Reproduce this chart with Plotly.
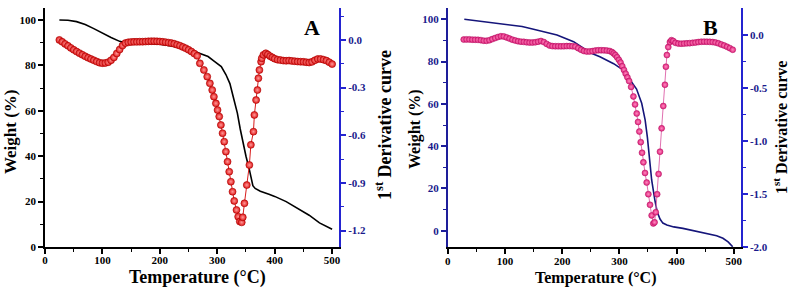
import plotly.graph_objects as go

# ---------------- Panel A data ----------------
A_wt_T = [25, 40, 55, 70, 85, 100, 115, 130, 140, 160, 180, 200, 220, 240, 255, 270, 284, 295,
          307, 315, 322, 328, 335, 340, 345, 350, 356, 362, 366, 375, 390, 400, 420, 444, 460,
          478, 490, 500]
A_wt = [100, 99.9, 99.3, 98.0, 96.2, 94.2, 92.3, 90.6, 90.0, 89.8, 89.6, 89.3, 88.6, 87.6, 86.8,
        85.3, 83.9, 81.8, 79.5, 76.0, 72.0, 66.0, 59.0, 52.0, 45.7, 40.0, 34.0, 27.0, 25.8, 24.6,
        23.2, 22.3, 20.0, 16.4, 14.0, 10.6, 9.0, 7.8]

A_dtg_T = [25, 30, 35, 40, 45, 50, 55, 60, 65, 70, 75, 80, 85, 90, 95, 100, 105, 110, 115, 120,
           125, 130, 135, 140, 145, 150, 155, 160, 165, 170, 175, 180, 185, 190, 195, 200, 205,
           210, 215, 220, 225, 230, 235, 240, 245, 250, 255, 260, 265,
           269.7, 276.7, 282.5, 287.1, 291.2, 294.1, 297.6, 300.5, 303.4, 306.3, 309.2, 312.1,
           315.0, 317.9, 320.8, 323.7, 326.6, 329.5, 333.5, 336.4, 339.3,
           342.6, 344.4, 347.3, 351.4, 355.9, 358.5, 363.0, 364.6, 367.6, 369.9, 371.6, 373.4,
           376.3, 377.5, 380.3, 384.5, 388, 392, 396, 400, 405, 410, 415, 420, 425, 430, 435,
           440, 445, 450, 455, 460, 465, 470, 475, 480, 485, 490, 495, 500]
A_dtg = [0.000, -0.012, -0.025, -0.037, -0.050, -0.062, -0.073, -0.083, -0.093, -0.103, -0.112,
         -0.120, -0.128, -0.136, -0.143, -0.146, -0.145, -0.140, -0.128, -0.110, -0.085, -0.060,
         -0.035, -0.020, -0.015, -0.013, -0.012, -0.012, -0.011, -0.011, -0.010, -0.009, -0.008,
         -0.008, -0.009, -0.010, -0.012, -0.014, -0.017, -0.020, -0.024, -0.030, -0.036, -0.044,
         -0.052, -0.062, -0.073, -0.086, -0.100,
         -0.147, -0.189, -0.231, -0.273, -0.315, -0.357, -0.399, -0.441, -0.482, -0.535, -0.587,
         -0.640, -0.703, -0.766, -0.829, -0.892, -0.955, -1.013, -1.070, -1.112, -1.143,
         -1.148, -1.116, -1.028, -0.913, -0.787, -0.660, -0.577, -0.472, -0.378, -0.315, -0.241,
         -0.189, -0.137, -0.115, -0.094, -0.084, -0.092, -0.102, -0.110, -0.118, -0.124, -0.127,
         -0.130, -0.131, -0.130, -0.132, -0.134, -0.136, -0.137, -0.138, -0.140, -0.142, -0.138,
         -0.128, -0.120, -0.120, -0.124, -0.130, -0.140, -0.152]

# ---------------- Panel B data ----------------
B_wt_T = [29, 50, 70, 87, 104, 130, 150, 168, 191, 220, 249, 266, 278, 290, 301, 307, 313, 319,
          325, 330, 339, 345, 349, 352.3, 356.4, 362, 366, 371, 376, 383, 395, 411, 430, 452,
          470, 481, 490, 498]
B_wt = [100, 99.3, 98.8, 98.1, 97.8, 96.6, 95.3, 94.1, 92.6, 89.4, 84.2, 82.3, 80.6, 79.0, 77.0,
        76.0, 73.5, 71.0, 69.0, 67.0, 60.3, 52.4, 44.0, 34.0, 24.0, 14.5, 9.0, 5.5, 3.6, 2.7,
        1.8, 1.1, 0.0, -1.2, -2.4, -3.6, -5.3, -7.6]

B_dtg_T = [28, 33, 38, 43, 48, 53, 58, 63, 68, 73, 78, 83, 88, 93, 98, 103, 108, 113, 118, 123,
           128, 133, 138, 143, 148, 153, 158, 163, 168, 173, 178, 183, 188, 193, 198, 203, 208,
           213, 218, 223, 228, 233, 238, 243, 248, 253, 258, 263, 268, 273, 278, 283, 287, 290,
           293, 296, 299, 302, 305, 308, 311, 314, 317, 320.5, 324.5, 327.4, 330.3, 332.6,
           334.9, 337.3, 339.6, 341.9, 344.8, 347.7, 350.6, 353.5, 356.4, 359.3, 361.5, 363.5,
           366, 368.5, 371, 373.8, 376.7, 379.6, 381.3, 383, 385.4, 388.3, 391, 394, 398, 403,
           408, 413, 418, 423, 428, 433, 438, 443, 448, 453, 458, 463, 468, 473, 478, 483, 488,
           493, 498]
B_dtg = [-0.044, -0.043, -0.043, -0.045, -0.046, -0.047, -0.050, -0.055, -0.056, -0.050, -0.040,
         -0.030, -0.020, -0.013, -0.015, -0.024, -0.035, -0.045, -0.053, -0.060, -0.064, -0.066,
         -0.070, -0.072, -0.072, -0.070, -0.064, -0.058, -0.068, -0.085, -0.100, -0.106, -0.107,
         -0.107, -0.108, -0.107, -0.106, -0.106, -0.107, -0.110, -0.125, -0.140, -0.152, -0.157,
         -0.156, -0.153, -0.148, -0.145, -0.145, -0.146, -0.148, -0.152, -0.162, -0.175, -0.190,
         -0.210, -0.235, -0.260, -0.295, -0.330, -0.365, -0.400, -0.435, -0.490, -0.580, -0.655,
         -0.740, -0.820, -0.910, -1.010, -1.110, -1.200, -1.300, -1.390, -1.500, -1.600, -1.700,
         -1.775, -1.765, -1.670, -1.500, -1.310, -1.100, -0.880, -0.670, -0.470, -0.300, -0.190,
         -0.115, -0.068, -0.050, -0.058, -0.075, -0.082, -0.083, -0.082, -0.080, -0.078, -0.075,
         -0.072, -0.068, -0.065, -0.064, -0.065, -0.066, -0.068, -0.072, -0.080, -0.090, -0.100,
         -0.112, -0.125, -0.140]

x_ticks = [0, 100, 200, 300, 400, 500]
wt_ticks = [0, 20, 40, 60, 80, 100]
A_d_ticks = [-1.2, -0.9, -0.6, -0.3, 0.0]
A_d_labels = ["-1.2", "-0.9", "-0.6", "-0.3", "0.0"]
B_d_ticks = [-2.0, -1.5, -1.0, -0.5, 0.0]
B_d_labels = ["-2.0", "-1.5", "-1.0", "-0.5", "0.0"]

W, H = 789, 291
FONT = "Liberation Serif"
BLACK = "#000000"
NAVY = "#1a1a8c"
BLUE = "#2424d0"


def fx(px):
    return px / W


def fy(py):
    return 1 - py / H


fig = go.Figure()

fig.add_trace(go.Scatter(x=A_wt_T, y=A_wt, mode="lines", line=dict(color="black", width=1.6),
                         xaxis="x", yaxis="y", showlegend=False))
fig.add_trace(go.Scatter(x=A_dtg_T, y=A_dtg, mode="lines+markers",
                         line=dict(color="#d81c1c", width=1),
                         marker=dict(size=7, color="#e01616",
                                     gradient=dict(type="radial", color="#ff9a9a"),
                                     line=dict(color="#a80000", width=0.6)),
                         xaxis="x", yaxis="y2", showlegend=False))
fig.add_trace(go.Scatter(x=B_wt_T, y=B_wt, mode="lines", line=dict(color="#15157a", width=1.6),
                         xaxis="x2", yaxis="y3", showlegend=False))
fig.add_trace(go.Scatter(x=B_dtg_T, y=B_dtg, mode="lines+markers",
                         line=dict(color="#e070b0", width=1),
                         marker=dict(size=6, color="#e0207a",
                                     gradient=dict(type="radial", color="#ff8cc0"),
                                     line=dict(color="#b01060", width=0.5)),
                         xaxis="x2", yaxis="y4", showlegend=False))

tickfont = lambda c: dict(family=FONT, size=11, color=c, weight="bold")

def xax(domain, anchor, lw=2):
    return dict(domain=domain, anchor=anchor, range=[0, 512], tickvals=x_ticks,
                ticks="outside", ticklen=5, tickwidth=1.5, tickcolor=BLACK,
                minor=dict(ticks="outside", ticklen=3, tickvals=[50, 150, 250, 350, 450],
                           tickcolor=BLACK, tickwidth=1.2),
                showline=True, linecolor=BLACK, linewidth=lw, showgrid=False, zeroline=False,
                tickfont=tickfont(BLACK), automargin=False, ticklabelstandoff=-3)

def topax(over, anchor):
    return dict(overlaying=over, anchor=anchor, side="top", range=[0, 512], tickvals=x_ticks,
                ticks="inside", ticklen=5, tickwidth=1.2, tickcolor=BLACK,
                minor=dict(ticks="inside", ticklen=3, tickvals=[50, 150, 250, 350, 450],
                           tickcolor=BLACK),
                showticklabels=False, showline=True, linecolor=BLACK, linewidth=1,
                showgrid=False, zeroline=False, automargin=False)

def yleft(domain, anchor, rng, color, lcolor, lw=1.5):
    return dict(domain=domain, anchor=anchor, range=rng, tickvals=wt_ticks,
                ticks="outside", ticklen=5, tickwidth=1.5, tickcolor=lcolor,
                minor=dict(ticks="outside", ticklen=3, tickvals=[10, 30, 50, 70, 90],
                           tickcolor=lcolor, tickwidth=1.2),
                showline=True, linecolor=lcolor, linewidth=lw, showgrid=False, zeroline=False,
                tickfont=tickfont(color), automargin=False)

def yright(over, anchor, rng, tv, tt, minor_tv):
    return dict(overlaying=over, anchor=anchor, side="right", range=rng, tickvals=tv,
                ticktext=tt, ticks="outside", ticklen=5, tickwidth=1.5, tickcolor=BLUE,
                minor=dict(ticks="outside", ticklen=3, tickvals=minor_tv, tickcolor=BLUE,
                           tickwidth=1.2),
                showline=True, linecolor=BLUE, linewidth=2, showgrid=False, zeroline=False,
                tickfont=tickfont(NAVY), automargin=False)

A_dom_x = [fx(45), fx(339)]
A_dom_y = [fy(247), fy(8)]
B_dom_x = [fx(447.7), fx(740.7)]
B_dom_y = [fy(247.3), fy(8.3)]

fig.update_layout(
    width=W, height=H, margin=dict(l=0, r=0, t=0, b=0), autosize=False,
    paper_bgcolor="white", plot_bgcolor="white",
    xaxis=xax(A_dom_x, "y"),
    xaxis2=xax(B_dom_x, "y3"),
    xaxis3=topax("x", "y"),
    xaxis4=topax("x2", "y3"),
    yaxis=yleft(A_dom_y, "x", [0, 105.3], BLACK, BLACK),
    yaxis2=yright("y", "x", [-1.303, 0.201], A_d_ticks, A_d_labels,
                  [-1.35, -1.05, -0.75, -0.45, -0.15, 0.15]),
    yaxis3=yleft(B_dom_y, "x2", [-7.85, 105.2], NAVY, "#1e1e9a"),
    yaxis4=yright("y3", "x2", [-2.0, 0.25], B_d_ticks, B_d_labels,
                  [-1.75, -1.25, -0.75, -0.25]),
)

def ann(text, px, py, size, angle=0, color=BLACK):
    fig.add_annotation(text=text, x=fx(px), y=fy(py), xref="paper", yref="paper",
                       showarrow=False, textangle=angle, xanchor="center", yanchor="middle",
                       font=dict(family=FONT, size=size, color=color, weight="bold"))

ann("Weight (%)", 11, 132, 17, -90)
ann("Temperature (°C)", 198, 277, 18)
ann("1<sup>st</sup> Derivative curve", 383, 125, 18, -90)
ann("A", 312, 28, 22)

ann("Weight (%)", 415, 129, 16, -90)
ann("Temperature (°C)", 595, 278, 16)
ann("1<sup>st</sup> Derivative curve", 780, 128, 16, -90)
ann("B", 710, 27, 22)

fig.write_html("out.html", config={"displayModeBar": False},
               post_script="document.body.style.margin='0';document.body.style.padding='0';"
                           "document.body.style.overflow='hidden';")
